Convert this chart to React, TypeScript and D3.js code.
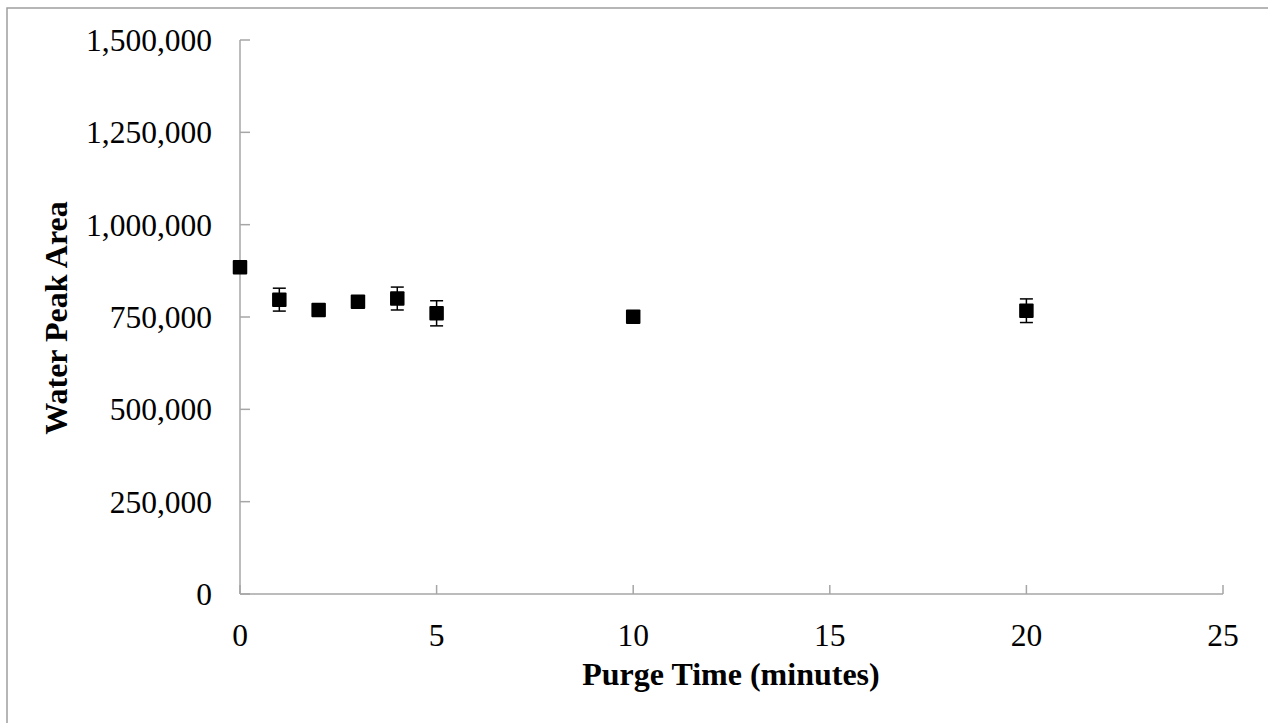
import React from "react";
import * as d3 from "d3";

const purgeTimes = [0, 1, 2, 3, 4, 5, 10, 20];
const peakAreas = [885000, 797000, 769000, 791000, 800000, 760000, 751000, 767000];
const errors = [0, 31000, 0, 0, 31000, 34000, 0, 32000];
const xTicks = [0, 5, 10, 15, 20, 25];
const yTicks = [0, 250000, 500000, 750000, 1000000, 1250000, 1500000];
const xTitle = "Purge Time (minutes)";
const yTitle = "Water Peak Area";

export default function App() {
  const W = 1268, H = 723;
  const x = d3.scaleLinear().domain([0, 25]).range([240, 1223]);
  const y = d3.scaleLinear().domain([0, 1500000]).range([594, 40]);
  const fmt = d3.format(",");
  const axisColor = "#a6a6a6";
  const font = "'Liberation Serif', 'Times New Roman', serif";
  const sq = 14.5;
  return (
    <svg width={W} height={H} style={{ position: "absolute", left: 0, top: 0 }} fontFamily={font}>
      <rect x={0} y={0} width={W} height={H} fill="white" />
      <rect x={7} y={8} width={1280} height={740} fill="none" stroke="#9e9e9e" strokeWidth={1.5} />
      {/* axes */}
      <line x1={x(0)} x2={x(0)} y1={y(0)} y2={y(1500000)} stroke={axisColor} strokeWidth={1.5} />
      <line x1={x(0)} x2={x(25)} y1={y(0)} y2={y(0)} stroke={axisColor} strokeWidth={1.5} />
      {yTicks.map((t) => (
        <g key={"y" + t}>
          <line x1={x(0)} x2={x(0) + 10} y1={y(t)} y2={y(t)} stroke={axisColor} strokeWidth={1.5} />
          <text x={212} y={y(t)} dy="0.35em" textAnchor="end" fontSize={31.5} fill="#000">{fmt(t)}</text>
        </g>
      ))}
      {xTicks.map((t) => (
        <g key={"x" + t}>
          <line x1={x(t)} x2={x(t)} y1={y(0)} y2={y(0) - 9} stroke={axisColor} strokeWidth={1.5} />
          <text x={x(t)} y={635} dy="0.35em" textAnchor="middle" fontSize={31.5} fill="#000">{t}</text>
        </g>
      ))}
      <text x={731} y={674} dy="0.35em" textAnchor="middle" fontSize={32} fontWeight="bold">{xTitle}</text>
      <text transform={`translate(56,318) rotate(-90)`} dy="0.35em" textAnchor="middle" fontSize={32} fontWeight="bold">{yTitle}</text>
      {purgeTimes.map((t, i) => {
        const cx = x(t), cy = y(peakAreas[i]);
        const e = errors[i];
        return (
          <g key={"p" + i}>
            {e > 0 && (
              <g stroke="#000" strokeWidth={1.5}>
                <line x1={cx} x2={cx} y1={y(peakAreas[i] + e)} y2={y(peakAreas[i] - e)} />
                <line x1={cx - 6.5} x2={cx + 6.5} y1={y(peakAreas[i] + e)} y2={y(peakAreas[i] + e)} />
                <line x1={cx - 6.5} x2={cx + 6.5} y1={y(peakAreas[i] - e)} y2={y(peakAreas[i] - e)} />
              </g>
            )}
            <rect x={cx - sq / 2} y={cy - sq / 2} width={sq} height={sq} fill="#000" rx={1} />
          </g>
        );
      })}
    </svg>
  );
}
